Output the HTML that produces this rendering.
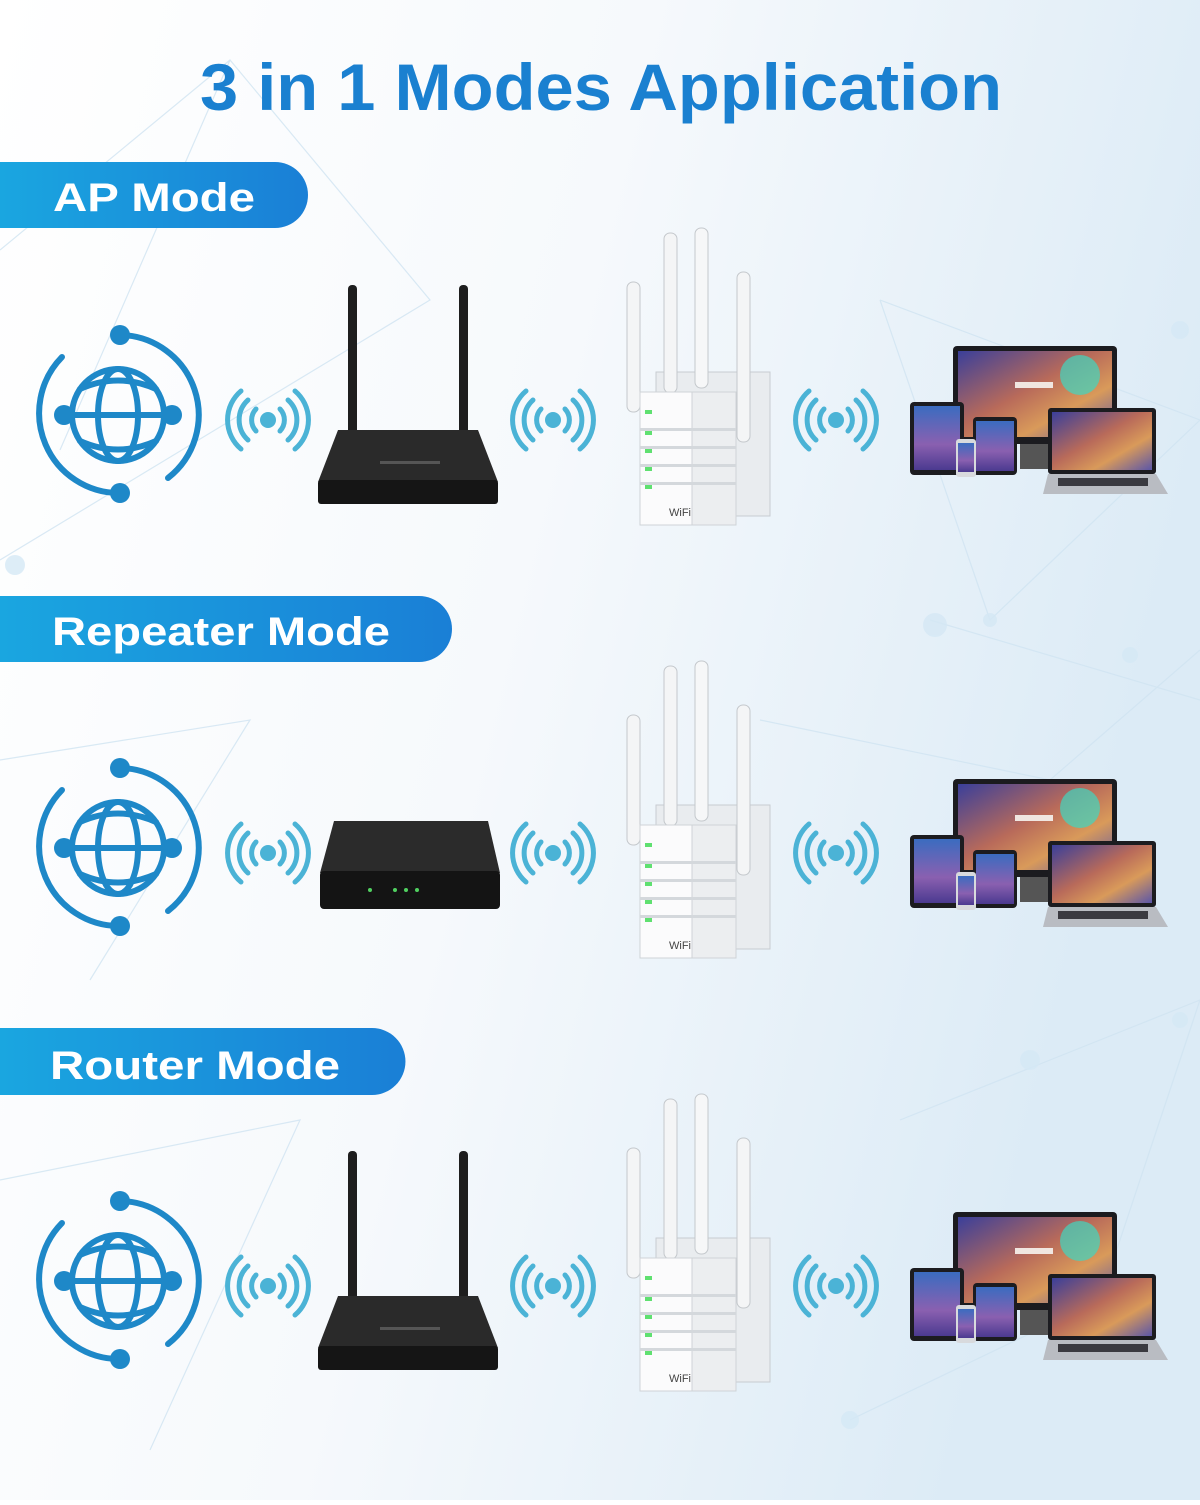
<!DOCTYPE html>
<html><head><meta charset="utf-8"><style>
html,body{margin:0;padding:0;}
body{width:1200px;height:1500px;overflow:hidden;font-family:"Liberation Sans",sans-serif;}
</style></head><body>
<svg width="1200" height="1500" viewBox="0 0 1200 1500" xmlns="http://www.w3.org/2000/svg">
<defs>
<linearGradient id="bg" x1="0" y1="0" x2="1" y2="0.3">
<stop offset="0" stop-color="#ffffff"/><stop offset="0.5" stop-color="#f6f9fc"/><stop offset="1" stop-color="#dcebf6"/>
</linearGradient>
<linearGradient id="pill" x1="0" y1="0" x2="1" y2="0">
<stop offset="0" stop-color="#1aa6e0"/><stop offset="1" stop-color="#1a7fd6"/>
</linearGradient>
<linearGradient id="scr" x1="0" y1="0" x2="1" y2="1">
<stop offset="0" stop-color="#3a3f9a"/><stop offset="0.45" stop-color="#b86a5a"/><stop offset="0.7" stop-color="#d99a5a"/><stop offset="1" stop-color="#5b56a8"/>
</linearGradient>
<linearGradient id="tab" x1="0" y1="0" x2="0" y2="1">
<stop offset="0" stop-color="#3b6cc0"/><stop offset="0.6" stop-color="#8a60b0"/><stop offset="1" stop-color="#4b3a90"/>
</linearGradient>
<g id="globe" fill="none" stroke="#1e88c8" stroke-width="6" stroke-linecap="round">
<circle cx="118" cy="415" r="46"/>
<ellipse cx="118" cy="415" rx="20" ry="46"/>
<line x1="64" y1="415" x2="172" y2="415"/>
<path d="M80 389 Q118 372 156 389"/>
<path d="M80 441 Q118 458 156 441"/>
<path d="M120 335 A80 80 0 0 1 168 478"/>
<path d="M62 357 A80 80 0 0 0 120 493"/>
<g fill="#1e88c8" stroke="none">
<circle cx="64" cy="415" r="10"/><circle cx="172" cy="415" r="10"/>
<circle cx="120" cy="335" r="10"/><circle cx="120" cy="493" r="10"/>
</g>
</g>
<g id="sig" fill="none" stroke="#4bb3d6" stroke-width="5" stroke-linecap="round">
<circle cx="0" cy="0" r="8" fill="#4bb3d6" stroke="none"/>
<path d="M-12 -11 A16 16 0 0 0 -12 11"/><path d="M12 -11 A16 16 0 0 1 12 11"/>
<path d="M-20 -20 A27 27 0 0 0 -20 20"/><path d="M20 -20 A27 27 0 0 1 20 20"/>
<path d="M-27 -29 A38 38 0 0 0 -27 29"/><path d="M27 -29 A38 38 0 0 1 27 29"/>
</g>
<g id="router">
<rect x="348" y="285" width="9" height="152" rx="4" fill="#1e1e1e"/>
<rect x="459" y="285" width="9" height="152" rx="4" fill="#1e1e1e"/>
<path d="M338 430 L478 430 L498 482 L318 482 Z" fill="#2a2a2a"/>
<rect x="318" y="480" width="180" height="24" rx="3" fill="#151515"/>
<rect x="380" y="461" width="60" height="3" fill="#555"/>
</g>
<g id="ext">
<rect x="656" y="372" width="114" height="144" fill="#e9ecef" stroke="#c8ccd1"/>
<rect x="627" y="282" width="13" height="130" rx="6" fill="#f4f5f6" stroke="#c4c8cc"/>
<rect x="664" y="233" width="13" height="160" rx="6" fill="#f4f5f6" stroke="#c4c8cc"/>
<rect x="695" y="228" width="13" height="160" rx="6" fill="#f6f7f8" stroke="#c4c8cc"/>
<rect x="640" y="392" width="52" height="133" fill="#fbfbfc" stroke="#cfd3d7"/>
<rect x="692" y="392" width="44" height="133" fill="#eceef0" stroke="#cfd3d7"/>
<g fill="#d4d8dc"><rect x="640" y="428" width="96" height="3"/><rect x="640" y="446" width="96" height="3"/><rect x="640" y="464" width="96" height="3"/><rect x="640" y="482" width="96" height="3"/></g>
<g fill="#5fe070"><rect x="645" y="410" width="7" height="4"/><rect x="645" y="431" width="7" height="4"/><rect x="645" y="449" width="7" height="4"/><rect x="645" y="467" width="7" height="4"/><rect x="645" y="485" width="7" height="4"/></g>
<rect x="737" y="272" width="13" height="170" rx="6" fill="#f4f5f6" stroke="#c4c8cc"/>
<text x="669" y="516" font-size="11" fill="#444" font-family="Liberation Sans,sans-serif">WiFi</text>
</g>
<g id="dev">
<rect x="953" y="346" width="164" height="98" rx="4" fill="#1b1b1f"/>
<rect x="958" y="351" width="154" height="86" fill="url(#scr)"/>
<circle cx="1080" cy="375" r="20" fill="#3fd7c0" opacity="0.7"/>
<rect x="1015" y="382" width="38" height="6" fill="#f0e6e0"/>
<rect x="1020" y="444" width="30" height="25" fill="#555"/>
<rect x="910" y="402" width="54" height="73" rx="4" fill="#1c1c20"/>
<rect x="914" y="406" width="46" height="64" fill="url(#tab)"/>
<rect x="973" y="417" width="44" height="58" rx="4" fill="#1c1c20"/>
<rect x="976" y="421" width="38" height="50" fill="url(#tab)"/>
<rect x="956" y="439" width="20" height="38" rx="3" fill="#d8dadd"/>
<rect x="958" y="443" width="16" height="29" fill="url(#tab)"/>
<rect x="1048" y="408" width="108" height="66" rx="3" fill="#1c1c20"/>
<rect x="1052" y="412" width="100" height="58" fill="url(#scr)"/>
<path d="M1048 474 L1156 474 L1168 494 L1043 494 Z" fill="#b9bcc2"/>
<rect x="1058" y="478" width="90" height="8" fill="#3a3a40"/>
</g>
<g id="row">
<use href="#globe"/>
<use href="#sig" x="268" y="420"/>
<use href="#sig" x="553" y="420"/>
<use href="#sig" x="836" y="420"/>
<use href="#ext"/>
<use href="#dev"/>
</g>
</defs>
<rect width="1200" height="1500" fill="url(#bg)"/>
<g stroke="#cfe3f1" stroke-width="1.2" fill="none" opacity="0.8">
<path d="M0 250 L230 60 L430 300 L0 560 M230 60 L60 450 M880 300 L1200 420 L990 620 L880 300 M760 720 L1050 780 L1200 650 M0 760 L250 720 L90 980 M930 620 L1200 700 M900 1120 L1200 1000 L1100 1300 L850 1420 M0 1180 L300 1120 L150 1450"/>
</g>
<g fill="#d5e8f5" opacity="0.8">
<circle cx="1180" cy="330" r="9"/><circle cx="935" cy="625" r="12"/><circle cx="990" cy="620" r="7"/><circle cx="1130" cy="655" r="8"/><circle cx="15" cy="565" r="10"/><circle cx="1030" cy="1060" r="10"/><circle cx="850" cy="1420" r="9"/><circle cx="1180" cy="1020" r="8"/>
</g>
<text x="200" y="110" font-size="66" font-weight="bold" fill="#1a80d0" textLength="802" lengthAdjust="spacingAndGlyphs">3 in 1 Modes Application</text>
<path d="M0 162 H275 A33 33 0 0 1 275 228 H0 Z" fill="url(#pill)"/>
<text x="53" y="211" font-size="40" font-weight="bold" fill="#fff" textLength="202" lengthAdjust="spacingAndGlyphs">AP Mode</text>
<path d="M0 596 H419 A33 33 0 0 1 419 662 H0 Z" fill="url(#pill)"/>
<text x="52" y="645" font-size="40" font-weight="bold" fill="#fff" textLength="338" lengthAdjust="spacingAndGlyphs">Repeater Mode</text>
<path d="M0 1028 H372 A33.5 33.5 0 0 1 372 1095 H0 Z" fill="url(#pill)"/>
<text x="50" y="1079" font-size="40" font-weight="bold" fill="#fff" textLength="290" lengthAdjust="spacingAndGlyphs">Router Mode</text>
<use href="#row"/><use href="#router"/>
<g transform="translate(0,433)"><use href="#row"/></g>
<g transform="translate(0,433)">
<path d="M334 388 L488 388 L500 440 L320 440 Z" fill="#2b2b2b"/>
<rect x="320" y="438" width="180" height="38" rx="4" fill="#141414"/>
<g fill="#50d060"><circle cx="370" cy="457" r="2"/><circle cx="395" cy="457" r="2"/><circle cx="406" cy="457" r="2"/><circle cx="417" cy="457" r="2"/></g>
</g>
<g transform="translate(0,866)"><use href="#row"/><use href="#router"/></g>
</svg>
</body></html>
